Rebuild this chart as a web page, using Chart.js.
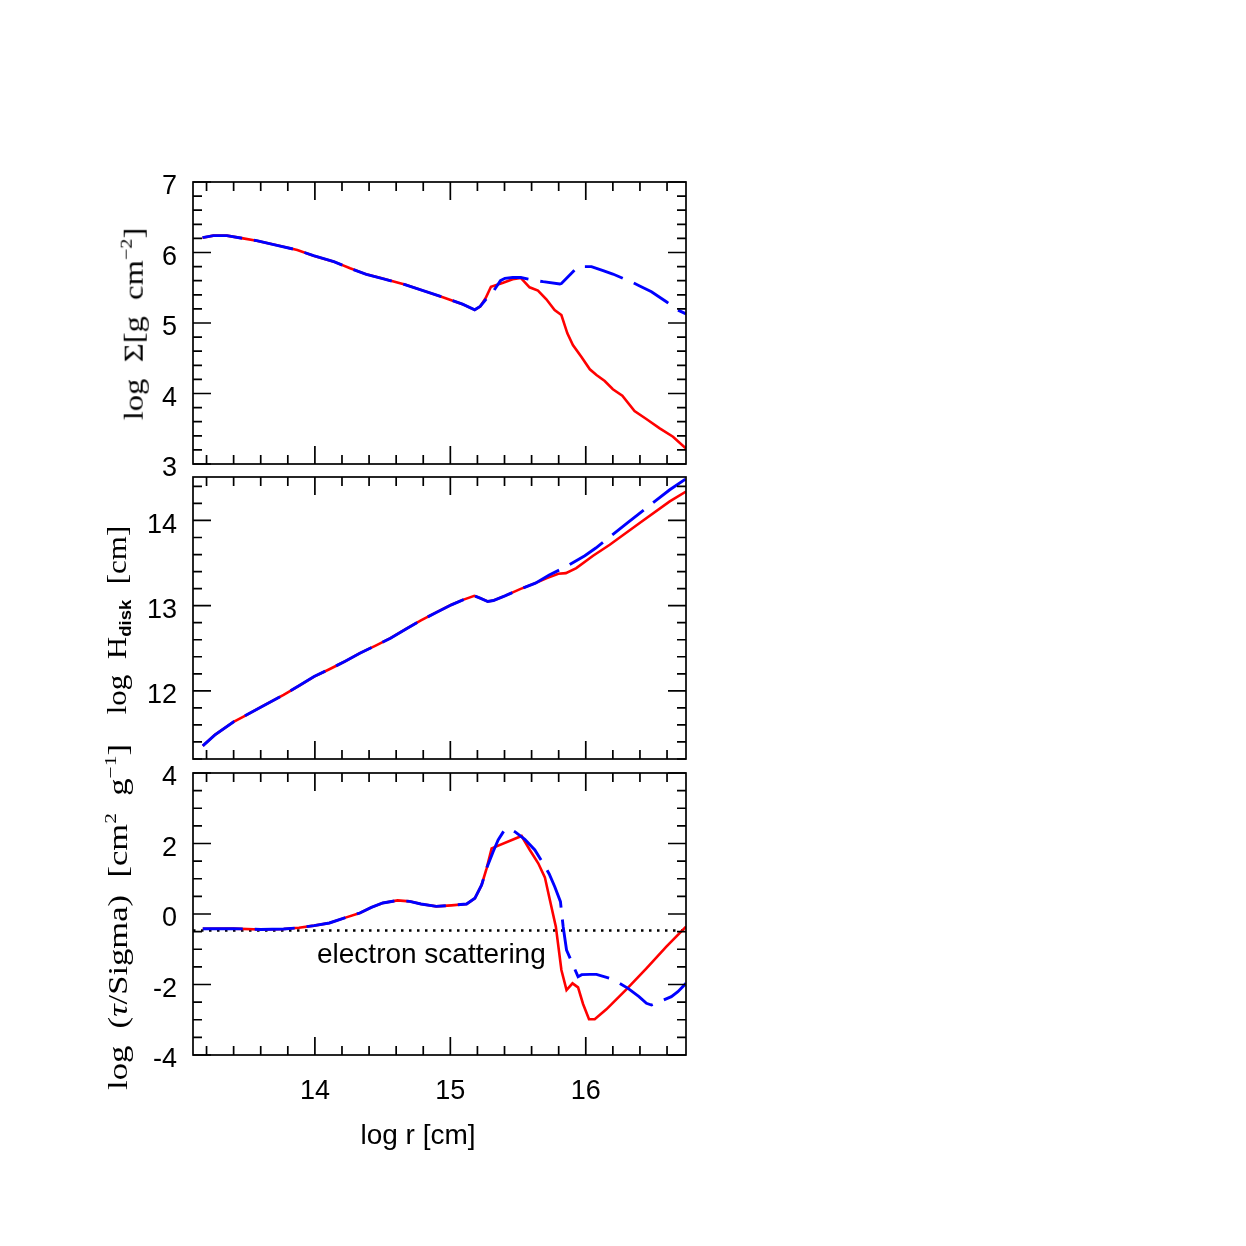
<!DOCTYPE html>
<html>
<head>
<meta charset="utf-8">
<script src="https://cdn.jsdelivr.net/npm/chart.js@4.4.1/dist/chart.umd.min.js"></script>
<style>
html,body{margin:0;padding:0;background:#fff;}
#wrap{position:relative;width:1246px;height:1246px;overflow:hidden;background:#fff;}
#wrap canvas{position:absolute;left:0;top:0;}
.yt{position:absolute;white-space:nowrap;font-family:"Liberation Serif","DejaVu Serif",serif;font-size:28px;line-height:1;color:#000;transform-origin:center center;}
.yt sup{font-size:62%;vertical-align:0.65em;line-height:0;}
.yt sub{font-size:60%;font-weight:bold;font-family:"Liberation Sans",Arial,sans-serif;vertical-align:-0.3em;line-height:0;}
.xt{position:absolute;white-space:nowrap;font-family:"Liberation Sans",Arial,sans-serif;font-size:28px;line-height:1;color:#000;transform:translate(-50%,-50%);}
</style>
</head>
<body>
<div id="wrap">
<canvas id="c1" width="1246" height="1246"></canvas>
<canvas id="c2" width="1246" height="1246"></canvas>
<canvas id="c3" width="1246" height="1246"></canvas>
<div class="yt" id="t1">log&nbsp;&nbsp;Σ[g&nbsp;&nbsp;cm<sup>−2</sup>]</div>
<div class="yt" id="t2">log&nbsp;&nbsp;H<sub>disk</sub>&nbsp;&nbsp;[cm]</div>
<div class="yt" id="t3">log&nbsp;&nbsp;(<i>τ</i>/Sigma)&nbsp;&nbsp;[cm<sup>2</sup>&nbsp;&nbsp;g<sup>−1</sup>]</div>
<div class="xt" id="xt" style="left:418px;top:1135px;">log r [cm]</div>
</div>
<script>
// ---------------- data ----------------
const xMin = 13.1, xMax = 16.74;
const xTickLabels = [14, 15, 16];
const sigmaTicks = [3, 4, 5, 6, 7];
const hTicks = [12, 13, 14];
const kappaTicks = [-4, -2, 0, 2, 4];
const esLevel = -0.47;
const esLabel = 'electron scattering';

// Panel 1: log Sigma
const sigmaRedX = [13.17,13.25,13.35,13.47,13.57,13.72,13.87,13.99,14.14,14.26,14.38,14.50,14.67,14.81,14.95,15.09,15.18,15.22,15.26,15.30,15.39,15.46,15.52,15.585,15.647,15.709,15.77,15.82,15.864,15.905,15.967,16.03,16.079,16.14,16.20,16.27,16.36,16.447,16.546,16.644,16.74];
const sigmaRedY = [6.21,6.239,6.239,6.20,6.168,6.102,6.035,5.955,5.87,5.776,5.69,5.63,5.542,5.452,5.362,5.267,5.187,5.234,5.35,5.515,5.572,5.62,5.64,5.506,5.459,5.336,5.184,5.113,4.854,4.688,4.522,4.343,4.262,4.177,4.06,3.97,3.75,3.638,3.506,3.387,3.22];
const sigmaBlueX = [13.17,13.25,13.35,13.47,13.57,13.72,13.87,13.99,14.14,14.26,14.38,14.50,14.67,14.81,14.95,15.09,15.18,15.22,15.26,15.316,15.37,15.403,15.46,15.52,15.611,15.685,15.808,15.82,15.943,16.042,16.128,16.20,16.349,16.398,16.485,16.595,16.68,16.74];
const sigmaBlueY = [6.21,6.239,6.239,6.20,6.168,6.102,6.035,5.955,5.87,5.776,5.69,5.63,5.542,5.452,5.362,5.267,5.187,5.234,5.33,5.444,5.60,5.634,5.645,5.645,5.61,5.586,5.553,5.56,5.80,5.80,5.742,5.695,5.572,5.525,5.444,5.302,5.184,5.13];

// Panel 2: log H_disk
const hRedX = [13.172,13.262,13.403,13.487,13.60,13.769,13.882,13.994,14.107,14.22,14.332,14.445,14.558,14.67,14.783,14.896,15.008,15.093,15.177,15.22,15.276,15.318,15.403,15.515,15.628,15.713,15.797,15.853,15.93,16.054,16.177,16.398,16.62,16.74];
const hRedY = [11.354,11.483,11.64,11.71,11.808,11.953,12.059,12.168,12.254,12.344,12.442,12.528,12.618,12.724,12.826,12.92,13.01,13.068,13.115,13.088,13.049,13.06,13.115,13.194,13.264,13.323,13.374,13.382,13.44,13.586,13.715,13.97,14.223,14.34];
const hBlueX = [13.172,13.262,13.403,13.487,13.60,13.769,13.882,13.994,14.107,14.22,14.332,14.445,14.558,14.67,14.783,14.896,15.008,15.093,15.177,15.22,15.276,15.318,15.403,15.515,15.628,15.73,15.858,15.993,16.074,16.312,16.39,16.62,16.74];
const hBlueY = [11.354,11.483,11.64,11.71,11.808,11.953,12.059,12.168,12.254,12.344,12.442,12.528,12.618,12.724,12.826,12.92,13.01,13.068,13.115,13.088,13.049,13.06,13.115,13.194,13.264,13.36,13.46,13.586,13.676,13.977,14.075,14.36,14.49];

// Panel 3: log (tau/Sigma)
const kRedX = [13.172,13.40,13.60,13.769,13.882,13.994,14.107,14.22,14.332,14.417,14.501,14.61,14.699,14.783,14.896,15.008,15.12,15.181,15.231,15.268,15.305,15.526,15.587,15.649,15.698,15.735,15.779,15.82,15.858,15.902,15.943,15.98,16.024,16.066,16.152,16.30,16.448,16.595,16.74];
const kRedY = [-0.42,-0.415,-0.44,-0.425,-0.39,-0.33,-0.255,-0.11,0.028,0.189,0.312,0.385,0.359,0.283,0.217,0.246,0.284,0.445,0.823,1.296,1.863,2.213,1.816,1.438,1.04,0.397,-0.36,-1.589,-2.156,-1.967,-2.08,-2.553,-2.987,-2.987,-2.704,-2.137,-1.54,-0.928,-0.36];
const kBlueX = [13.172,13.40,13.60,13.769,13.882,13.994,14.107,14.22,14.332,14.417,14.501,14.61,14.699,14.783,14.896,15.008,15.12,15.181,15.231,15.268,15.316,15.353,15.395,15.435,15.476,15.55,15.624,15.685,15.73,15.771,15.813,15.833,15.858,15.895,15.943,15.97,16.03,16.079,16.177,16.251,16.312,16.393,16.448,16.485,16.546,16.632,16.68,16.74];
const kBlueY = [-0.42,-0.415,-0.44,-0.425,-0.39,-0.33,-0.255,-0.11,0.028,0.189,0.312,0.385,0.359,0.283,0.217,0.246,0.284,0.445,0.823,1.296,1.768,2.1,2.355,2.431,2.336,2.12,1.816,1.438,1.135,0.775,0.35,-0.36,-1.021,-1.352,-1.778,-1.72,-1.712,-1.712,-1.825,-1.967,-2.109,-2.345,-2.534,-2.582,-2.487,-2.345,-2.203,-1.967];

// ---------------- helpers ----------------
const pts = (xs, ys) => xs.map((x, i) => ({x: x, y: ys[i]}));
const SANS = '"Liberation Sans", Arial, Helvetica, sans-serif';

const boxTicks = {
  id: 'boxTicks',
  afterDraw(chart, args, o) {
    const {ctx, chartArea: a, scales: {x, y}} = chart;
    const vals = (lo, hi, step) => {
      const out = [];
      const k0 = Math.ceil(lo / step - 1e-6), k1 = Math.floor(hi / step + 1e-6);
      for (let k = k0; k <= k1; k++) out.push(k * step);
      return out;
    };
    const isMajor = (v, m) => Math.abs(v / m - Math.round(v / m)) < 1e-6;
    ctx.save();
    ctx.strokeStyle = '#000';
    ctx.lineWidth = 1.7;
    ctx.beginPath();
    for (const v of vals(x.min, x.max, o.xMinor)) {
      const p = x.getPixelForValue(v);
      const L = isMajor(v, o.xMajor) ? 18 : 9;
      ctx.moveTo(p, a.top); ctx.lineTo(p, a.top + L);
      ctx.moveTo(p, a.bottom); ctx.lineTo(p, a.bottom - L);
    }
    for (const v of vals(y.min, y.max, o.yMinor)) {
      const p = y.getPixelForValue(v);
      const L = isMajor(v, o.yMajor) ? 18 : 9;
      ctx.moveTo(a.left, p); ctx.lineTo(a.left + L, p);
      ctx.moveTo(a.right, p); ctx.lineTo(a.right - L, p);
    }
    ctx.stroke();
    ctx.strokeRect(a.left, a.top, a.right - a.left, a.bottom - a.top);
    if (o.label) {
      ctx.fillStyle = '#000';
      ctx.font = '28px ' + SANS;
      ctx.textAlign = 'center';
      ctx.textBaseline = 'middle';
      ctx.fillText(o.label.text, x.getPixelForValue(o.label.x), y.getPixelForValue(o.label.y));
    }
    ctx.restore();
  }
};

function redSet(data) {
  return {data, borderColor: '#ff0000', borderWidth: 2.6, pointRadius: 0, tension: 0, order: 1, fill: false};
}
function blueSet(data) {
  return {data, borderColor: '#0000ff', borderWidth: 2.9, borderDash: [40, 12], pointRadius: 0, tension: 0, order: 0, fill: false};
}

function makePanel(id, cfg) {
  const Y_W = 70, X_H = cfg.xH;
  return new Chart(document.getElementById(id), {
    type: 'line',
    data: {datasets: cfg.datasets},
    options: {
      responsive: false,
      animation: false,
      devicePixelRatio: 1,
      layout: {padding: {left: 193 - Y_W, right: 1246 - 686, top: cfg.top, bottom: 1246 - cfg.bottom - X_H}},
      plugins: {
        legend: {display: false},
        tooltip: {enabled: false},
        boxTicks: {xMinor: 0.2, xMajor: 1, yMinor: cfg.yMinor, yMajor: cfg.yMajor, label: cfg.label || null}
      },
      scales: {
        x: {
          type: 'linear', min: xMin, max: xMax,
          grid: {display: false, drawTicks: false},
          border: {display: false},
          ticks: {display: cfg.showX, padding: 20, color: '#000', font: {family: SANS, size: 27}},
          afterBuildTicks: s => { s.ticks = xTickLabels.map(v => ({value: v})); },
          afterFit: s => { s.height = X_H; }
        },
        y: {
          type: 'linear', min: cfg.yMin, max: cfg.yMax,
          grid: {display: false, drawTicks: false},
          border: {display: false},
          ticks: {padding: 16, labelOffset: 5, color: '#000', font: {family: SANS, size: 27}},
          afterBuildTicks: s => { s.ticks = cfg.yTicks.map(v => ({value: v})); },
          afterFit: s => { s.width = Y_W; }
        }
      }
    },
    plugins: [boxTicks]
  });
}

makePanel('c1', {
  top: 182, bottom: 464, xH: 0, showX: false,
  yMin: 3, yMax: 7, yTicks: sigmaTicks, yMinor: 0.2, yMajor: 1,
  datasets: [blueSet(pts(sigmaBlueX, sigmaBlueY)), redSet(pts(sigmaRedX, sigmaRedY))]
});
makePanel('c2', {
  top: 477, bottom: 759, xH: 0, showX: false,
  yMin: 11.2, yMax: 14.51, yTicks: hTicks, yMinor: 0.2, yMajor: 1,
  datasets: [blueSet(pts(hBlueX, hBlueY)), redSet(pts(hRedX, hRedY))]
});
makePanel('c3', {
  top: 773, bottom: 1055, xH: 60, showX: true,
  yMin: -4, yMax: 4, yTicks: kappaTicks, yMinor: 0.5, yMajor: 2,
  label: {text: esLabel, x: 14.86, y: -1.16},
  datasets: [
    blueSet(pts(kBlueX, kBlueY)),
    redSet(pts(kRedX, kRedY)),
    {data: pts([xMin, xMax], [esLevel, esLevel]), borderColor: '#000', borderWidth: 2.4, borderDash: [2.5, 5.5], pointRadius: 0, tension: 0, order: 2, fill: false}
  ]
});

// rotated y-axis titles
const titles = [
  {id: 't1', cx: 133, cy: 324, len: 192},
  {id: 't2', cx: 117, cy: 620, len: 188},
  {id: 't3', cx: 118, cy: 917, len: 346}
];
for (const t of titles) {
  const el = document.getElementById(t.id);
  const w = el.offsetWidth, h = el.offsetHeight;
  el.style.left = (t.cx - w / 2) + 'px';
  el.style.top = (t.cy - h / 2) + 'px';
  el.style.transform = 'rotate(-90deg) scaleX(' + (t.len / w) + ')';
}
</script>
</body>
</html>
